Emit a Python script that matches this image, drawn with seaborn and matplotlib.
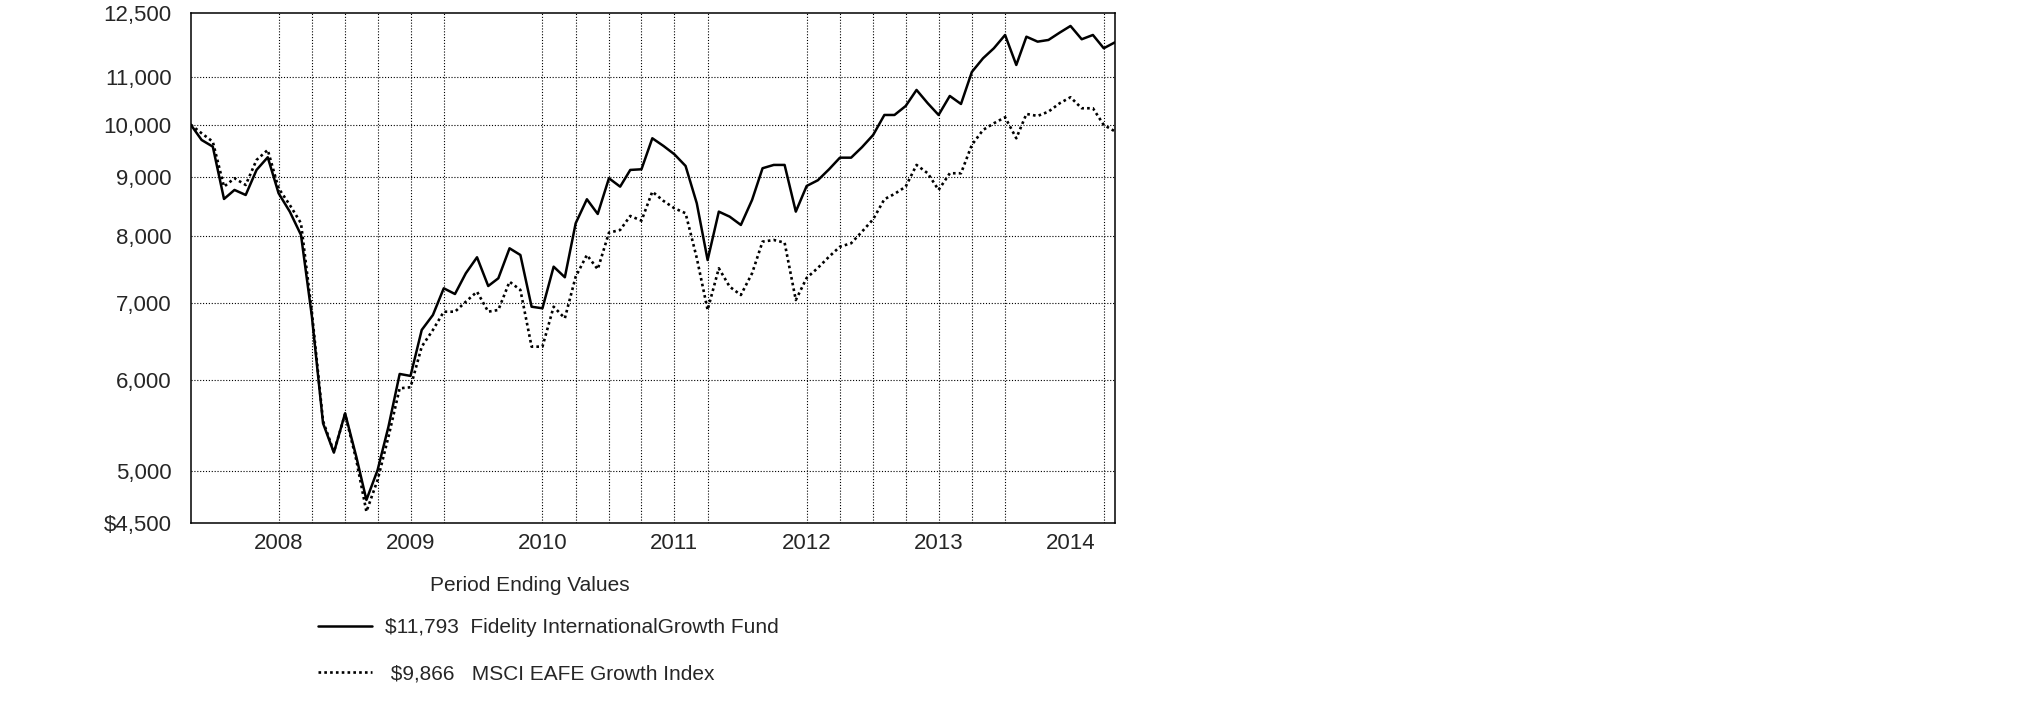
import numpy as np
import pandas as pd
import seaborn as sns
import matplotlib.pyplot as plt
from matplotlib.ticker import FixedLocator, NullLocator, NullFormatter

sns.set_style("white")
plt.rcParams['font.family'] = ['Liberation Sans', 'DejaVu Sans']

# Month-end values of a $10,000 investment, Oct 2007 - Oct 2014
months = pd.date_range(start='2007-10-31', periods=85, freq=pd.offsets.MonthEnd())

fund = [10000, 9698, 9569, 8617, 8774, 8686, 9133, 9368, 8716, 8401,
        8017, 6816, 5498, 5184, 5609, 5142, 4715, 5007, 5461, 6069,
        6045, 6628, 6830, 7205, 7123, 7425, 7667, 7238, 7351, 7806,
        7702, 6944, 6922, 7524, 7366, 8208, 8612, 8362, 8982, 8832,
        9133, 9145, 9731, 9582, 9424, 9206, 8543, 7625, 8401, 8317,
        8180, 8600, 9164, 9225, 9225, 8401, 8844, 8946, 9145, 9360,
        9360, 9558, 9796, 10196, 10196, 10381, 10720, 10438, 10196, 10592,
        10423, 11113, 11422, 11654, 11968, 11270, 11927, 11809, 11849, 12024,
        12186, 11866, 11968, 11654, 11793]

index = [10000, 9829, 9665, 8832, 8982, 8862, 9317, 9506, 8804, 8514,
         8208, 6871, 5523, 5191, 5600, 5108, 4606, 4908, 5352, 5897,
         5909, 6410, 6628, 6875, 6875, 7014, 7156, 6875, 6899, 7301,
         7181, 6410, 6410, 6944, 6785, 7375, 7702, 7485, 8054, 8098,
         8329, 8250, 8744, 8583, 8458, 8374, 7656, 6899, 7500, 7228,
         7109, 7425, 7911, 7937, 7895, 7038, 7356, 7505, 7676, 7831,
         7885, 8070, 8274, 8612, 8704, 8832, 9225, 9072, 8774, 9072,
         9072, 9602, 9894, 10028, 10149, 9731, 10217, 10176, 10264, 10438,
         10564, 10334, 10334, 9994, 9866]

fund_label = "\\$11,793  Fidelity InternationalGrowth Fund"
index_label = " \\$9,866   MSCI EAFE Growth Index"
legend_title = "Period Ending Values"

y_ticks = [4500, 5000, 6000, 7000, 8000, 9000, 10000, 11000, 12500]
y_tick_labels = ["\\$4,500", "5,000", "6,000", "7,000", "8,000", "9,000",
                 "10,000", "11,000", "12,500"]
year_labels = ["2008", "2009", "2010", "2011", "2012", "2013", "2014"]
year_ends = pd.to_datetime(["2007-12-31", "2008-12-31", "2009-12-31", "2010-12-31",
                            "2011-12-31", "2012-12-31", "2013-12-31"])
year_mids = pd.to_datetime(["2008-06-30", "2009-06-30", "2010-06-30", "2011-06-30",
                            "2012-06-30", "2013-06-30", "2014-06-30"])
grid_months = pd.to_datetime(["2008-06-30", "2008-09-30", "2008-12-31", "2009-03-31",
                              "2009-06-30", "2009-09-30", "2010-06-30", "2010-09-30",
                              "2010-12-31", "2011-03-31", "2011-06-30", "2011-09-30",
                              "2012-06-30", "2012-09-30", "2012-12-31", "2013-03-31",
                              "2013-06-30", "2013-09-30", "2013-12-31", "2014-09-30"])

fig = plt.figure(figsize=(20.25, 7.17), dpi=100)
ax = fig.add_axes([0.0942, 0.2702, 0.4564, 0.7113])

# Dotted grid
for g in grid_months:
    ax.axvline(g, color='black', lw=0.8, linestyle=(0, (1, 1.6)), zorder=1)
for v in y_ticks[1:-1]:
    ax.axhline(v, color='black', lw=0.8, linestyle=(0, (1, 1.6)), zorder=1)

sns.lineplot(x=months, y=fund, color='black', lw=1.8, label=fund_label, ax=ax, zorder=3)
sns.lineplot(x=months, y=index, color='black', lw=1.9, linestyle=(0, (1, 1.2)),
             label=index_label, ax=ax, zorder=2)

ax.set_yscale('log')
ax.set_ylim(4500, 12500)
ax.yaxis.set_major_locator(FixedLocator(y_ticks))
ax.yaxis.set_minor_locator(NullLocator())
ax.yaxis.set_minor_formatter(NullFormatter())
ax.set_yticklabels(y_tick_labels)
ax.tick_params(axis='y', which='major', direction='out', length=7.7, width=1.6,
               labelsize=16, pad=6, color='black')

ax.set_xlim(months[0], months[-1])
ax.set_xticks(year_ends)
ax.set_xticklabels([])
ax.set_xticks(year_mids, minor=True)
ax.set_xticklabels(year_labels, minor=True)
ax.tick_params(axis='x', which='major', direction='in', length=20, width=1.5, color='black')
ax.tick_params(axis='x', which='minor', length=0, labelsize=16, pad=7)

ax.set_xlabel("")
ax.set_ylabel("")
for s in ax.spines.values():
    s.set_color('black')
    s.set_linewidth(1.1)

fig.text(0.2616, 0.1841, legend_title, ha='center', va='center', fontsize=15)
ax.legend(loc='upper left', bbox_to_anchor=(0.157, 0.138), bbox_transform=fig.transFigure,
          frameon=False, borderpad=0, borderaxespad=0,
          handlelength=2.6, handletextpad=0.6, labelspacing=1.3, fontsize=15)

fig.savefig('out.png', dpi=100)
